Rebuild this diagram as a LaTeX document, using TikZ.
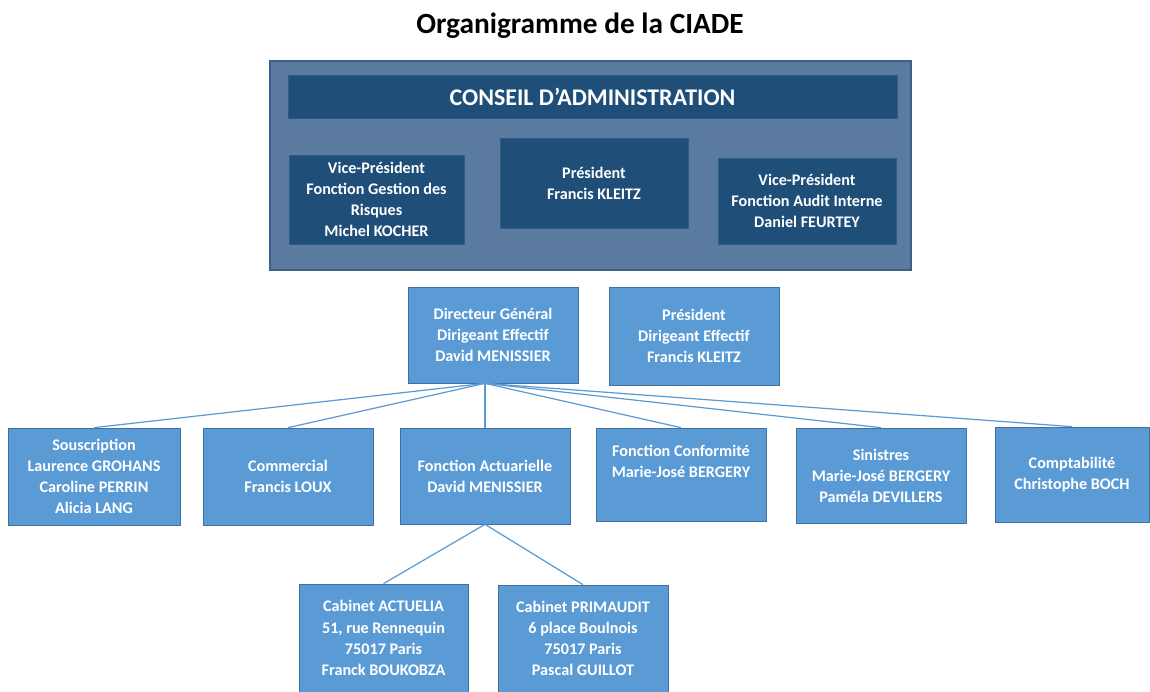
\documentclass[tikz,border=0pt]{standalone}
\usepackage{fontspec}
\setmainfont{Carlito}
\definecolor{cadre}{HTML}{5A7B9F}
\definecolor{cadrebord}{HTML}{3E6088}
\definecolor{fonce}{HTML}{1F4E79}
\definecolor{foncebord}{HTML}{2F5B86}
\definecolor{clair}{HTML}{5B9BD5}
\definecolor{clairbord}{HTML}{41719C}
\tikzset{
	boite/.style={draw=clairbord,fill=clair,text=white,align=center,inner sep=0pt,
		font=\bfseries\fontsize{9.2}{12}\selectfont,minimum width=3.4cm},
	sombre/.style={boite,draw=foncebord,fill=fonce},
	lien/.style={draw=clair,line width=0.7pt}
}
\begin{document}
\begin{tikzpicture}[x=0.02cm,y=-0.02cm]
\useasboundingbox (0,0) rectangle (1150,692);
\node[font=\bfseries\fontsize{16.7}{20}\selectfont,anchor=base] (titre) at (580,34) {Organigramme de la CIADE};
% conseil d'administration
\node[draw=cadrebord,fill=cadre,line width=0.8pt,minimum width=12.82cm,minimum height=4.18cm] (ca) at (590.5,165.5) {};
\node[sombre,font=\bfseries\fontsize{13.6}{16}\selectfont,minimum width=12.18cm,minimum height=0.86cm] (conseil) at (592.5,96.5) {CONSEIL D’ADMINISTRATION};
\node[sombre,minimum width=3.5cm,minimum height=1.78cm] (vpg) at (376.5,199.5) {Vice-Président\\Fonction Gestion des\\Risques\\Michel KOCHER};
\node[sombre,minimum width=3.76cm,minimum height=1.8cm] (pres) at (594,183) {Président\\Francis KLEITZ};
\node[sombre,minimum width=3.56cm,minimum height=1.72cm] (vpa) at (807,201) {Vice-Président\\Fonction Audit Interne\\Daniel FEURTEY};
% direction
\node[boite,minimum height=1.92cm] (dg) at (493,335) {Directeur Général\\Dirigeant Effectif\\David MENISSIER};
\node[boite,minimum height=1.96cm] (pde) at (694,336) {Président\\Dirigeant Effectif\\Francis KLEITZ};
% fonctions
\node[boite,minimum width=3.44cm,minimum height=1.94cm] (sousc) at (94,476.5) {Souscription\\Laurence GROHANS\\Caroline PERRIN\\Alicia LANG};
\node[boite,minimum height=1.94cm] (comm) at (288,476.5) {Commercial\\Francis LOUX};
\node[boite,minimum height=1.92cm] (actu) at (485,476) {Fonction Actuarielle\\David MENISSIER};
\node[boite,minimum height=1.86cm,text depth=15pt] (conf) at (681,474.5) {Fonction Conformité\\Marie-José BERGERY};
\node[boite,minimum height=1.9cm] (sin) at (881,475.5) {Sinistres\\Marie-José BERGERY\\Paméla DEVILLERS};
\node[boite,minimum width=3.08cm,minimum height=1.9cm] (compta) at (1072,474.5) {Comptabilité\\Christophe BOCH};
% cabinets
\node[boite,minimum width=3.38cm,minimum height=2.16cm] (actuelia) at (383.5,638) {Cabinet ACTUELIA\\51, rue Rennequin\\75017 Paris\\Franck BOUKOBZA};
\node[boite,minimum height=2.14cm] (primaudit) at (583,638.5) {Cabinet PRIMAUDIT\\6 place Boulnois\\75017 Paris\\Pascal GUILLOT};
% liens
\coordinate (dgbas) at (dg.south -| actu.north);
\foreach \f in {sousc,comm,actu,conf,sin,compta}
	\draw[lien] (dgbas) -- (\f.north);
\foreach \c in {actuelia,primaudit}
	\draw[lien] (actu.south) -- (\c.north);
\end{tikzpicture}
\end{document}
